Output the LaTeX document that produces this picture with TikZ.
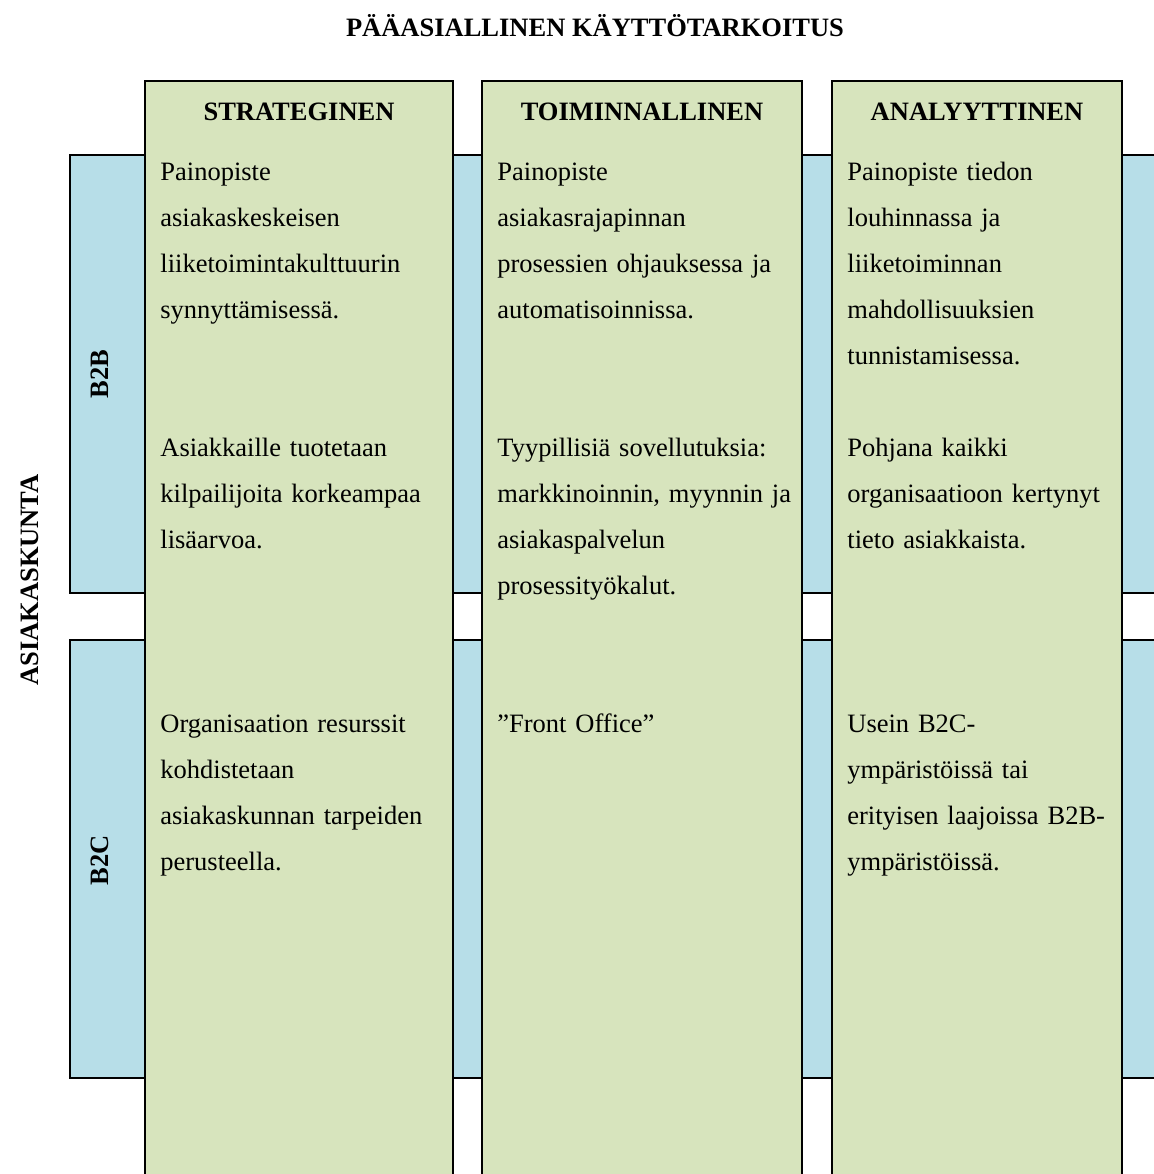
\documentclass[tikz,border=0pt]{standalone}
\usepackage{fontspec}
\setmainfont{Liberation Serif}
\definecolor{colgreen}{HTML}{D7E4BD}
\definecolor{bandblue}{HTML}{B7DEE8}
\tikzset{
  band/.style={draw=black, line width=0.85pt, fill=bandblue},
  colbox/.style={draw=black, line width=0.85pt, fill=colgreen},
  titletext/.style={font=\fontsize{13.25}{16}\selectfont\bfseries, inner sep=0pt, anchor=base},
  headtext/.style={font=\fontsize{13.25}{16}\selectfont\bfseries, inner sep=0pt, anchor=base},
  sidetext/.style={font=\fontsize{13.25}{16}\selectfont\bfseries, inner sep=0pt, rotate=90},
  bodytext/.style={font=\fontsize{13.25}{23}\selectfont, inner sep=0pt, anchor=base west, text width=165pt, align=left},
}
\begin{document}
\begin{tikzpicture}[x=0.5pt,y=-0.5pt]
\clip (0,0) rectangle (1154,1174);
\fill[white] (0,0) rectangle (1154,1174);
% row bands
\draw[band] (70,155) rectangle (1170,593);
\draw[band] (70,640) rectangle (1170,1078);
% columns
\draw[colbox] (145,81) rectangle (453,1200);
\draw[colbox] (482,81) rectangle (802,1200);
\draw[colbox] (832,81) rectangle (1122,1200);
% title and axis labels
\node[titletext] (title) at (595,36) {PÄÄASIALLINEN KÄYTTÖTARKOITUS};
\node[sidetext] (asiakas) at (30,580) {ASIAKASKUNTA};
\node[sidetext] (b2b) at (100,374) {B2B};
\node[sidetext] (b2c) at (100,860) {B2C};
% column headers
\node[headtext] (h1) at (299,120) {STRATEGINEN};
\node[headtext] (h2) at (642,120) {TOIMINNALLINEN};
\node[headtext] (h3) at (977,120) {ANALYYTTINEN};
% column 1
\node[bodytext] (s1) at (160,180) {Painopiste\\asiakaskeskeisen\\liiketoimintakulttuurin\\synnyttämisessä.};
\node[bodytext] (s2) at (160,456) {Asiakkaille tuotetaan\\kilpailijoita korkeampaa\\lisäarvoa.};
\node[bodytext] (s3) at (160,732) {Organisaation resurssit\\kohdistetaan\\asiakaskunnan tarpeiden\\perusteella.};
% column 2
\node[bodytext] (t1) at (497,180) {Painopiste\\asiakasrajapinnan\\prosessien ohjauksessa ja\\automatisoinnissa.};
\node[bodytext] (t2) at (497,456) {Tyypillisiä sovellutuksia:\\markkinoinnin, myynnin ja\\asiakaspalvelun\\prosessityökalut.};
\node[bodytext] (t3) at (497,732) {”Front Office”};
% column 3
\node[bodytext] (a1) at (847,180) {Painopiste tiedon\\louhinnassa ja\\liiketoiminnan\\mahdollisuuksien\\tunnistamisessa.};
\node[bodytext] (a2) at (847,456) {Pohjana kaikki\\organisaatioon kertynyt\\tieto asiakkaista.};
\node[bodytext] (a3) at (847,732) {Usein B2C-\\ympäristöissä tai\\erityisen laajoissa B2B-\\ympäristöissä.};
\end{tikzpicture}
\end{document}
